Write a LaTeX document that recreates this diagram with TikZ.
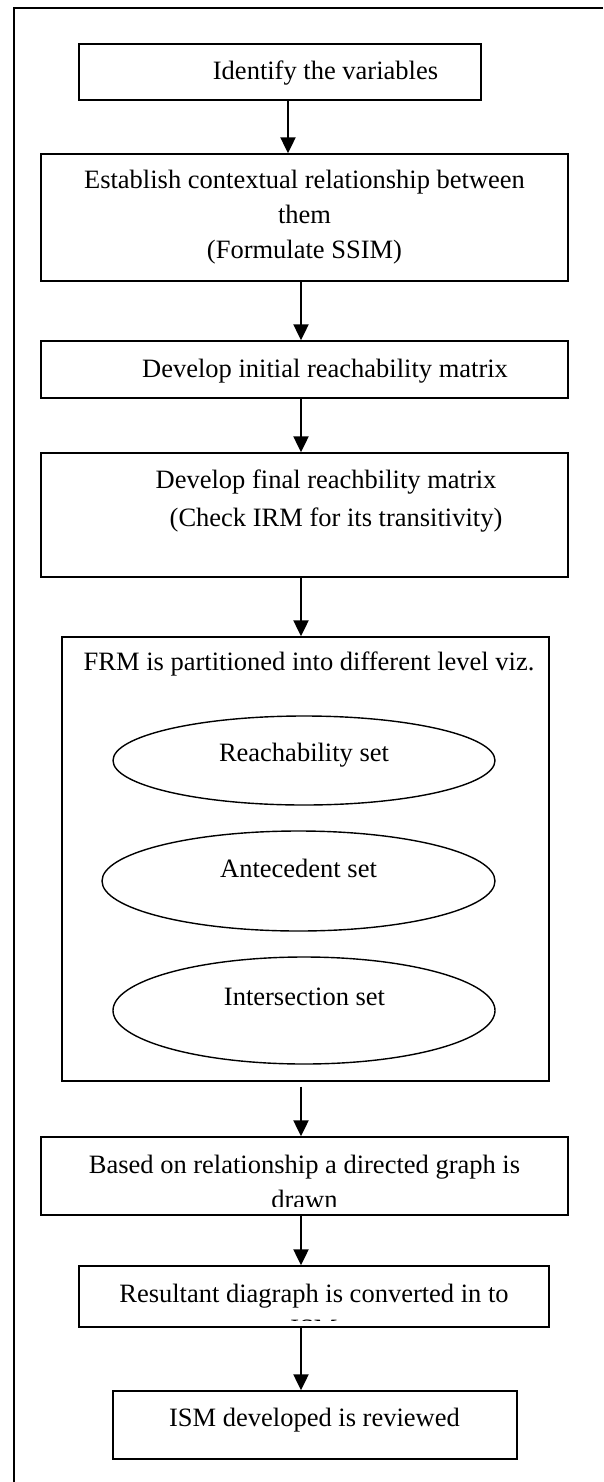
\documentclass[tikz,border=0pt]{standalone}
\usepackage{fontspec}
\setmainfont{Liberation Serif}
\usetikzlibrary{shapes.geometric,arrows.meta}
\begin{document}
\begin{tikzpicture}[x=1pt,y=-1pt,line width=1.4pt,>={Triangle[length=16pt,width=15pt]},
    font=\fontsize{26.5}{35}\selectfont]
    \tikzstyle{stepbox}=[draw,rectangle,inner sep=0pt]
    \tikzstyle{setell}=[ellipse,draw,inner sep=0pt]
    \tikzstyle{txt}=[inner sep=0pt,anchor=base]
    \tikzstyle{flow}=[->,line width=2.2pt]

    \useasboundingbox (0,0) rectangle (603,1482);
    \draw (14,1482) -- (14,8) -- (603,8);

    \node[stepbox,minimum width=402pt,minimum height=56pt] (b1) at (280,72) {};
    \node[stepbox,minimum width=527pt,minimum height=127pt] (b2) at (304.5,217.5) {};
    \node[stepbox,minimum width=527pt,minimum height=57pt] (b3) at (304.5,369.5) {};
    \node[stepbox,minimum width=527pt,minimum height=124pt] (b4) at (304.5,515) {};
    \node[stepbox,minimum width=487pt,minimum height=444pt] (b5) at (305.5,859) {};
    \node[stepbox,minimum width=527pt,minimum height=78pt] (b6) at (304.5,1176) {};
    \node[stepbox,minimum width=470pt,minimum height=61pt] (b7) at (314,1296.5) {};
    \node[stepbox,minimum width=404pt,minimum height=68pt] (b8) at (315,1425) {};

    \node[setell,minimum width=382pt,minimum height=89pt] (e1) at (304,760.5) {};
    \node[setell,minimum width=393pt,minimum height=100pt] (e2) at (298.5,881) {};
    \node[setell,minimum width=382pt,minimum height=107pt] (e3) at (304,1010.5) {};

    % multi-line texts sit on the baseline of their last line
    \node[txt] (t1) at (325.5,80) {Identify the variables};
    \node[txt,align=center] (t2) at (304.5,258) {Establish contextual relationship between\\them\\(Formulate SSIM)};
    \node[txt] (t3) at (325,377) {Develop initial reachability matrix};
    \node[txt,anchor=base west,align=left] (t4) at (155,526) {Develop final reachbility matrix\\[3pt]\hspace*{14pt}(Check IRM for its transitivity)};
    \node[txt,anchor=base west] (t5) at (83,670) {FRM is partitioned into different level viz.};
    \node[txt] (r1) at (304,761) {Reachability set};
    \node[txt] (r2) at (298.5,877) {Antecedent set};
    \node[txt] (r3) at (304.5,1005) {Intersection set};
    \begin{scope}
      \clip (b6.north west) rectangle ([yshift=9pt]b6.south east);
      \node[txt,align=center] (t6) at (304.5,1208) {Based on relationship a directed graph is\\drawn};
    \end{scope}
    \begin{scope}
      \clip (b7.north west) rectangle ([yshift=7pt]b7.south east);
      \node[txt,align=center] (t7) at (314,1337) {Resultant diagraph is converted in to\\ISM};
    \end{scope}
    \node[txt] (t8) at (314.5,1426) {ISM developed is reviewed};

    \coordinate (ax1) at (288,0);
    \coordinate (ax) at (301,0);
    \draw[flow] (b1.south -| ax1) -- (b2.north -| ax1);
    \foreach \a/\b in {b2/b3,b3/b4,b4/b5,b6/b7,b7/b8}
    \draw[flow] (\a.south -| ax) -- (\b.north -| ax);
    \draw[flow,shorten <=5pt] (b5.south -| ax) -- (b6.north -| ax);
  \end{tikzpicture}
\end{document}
